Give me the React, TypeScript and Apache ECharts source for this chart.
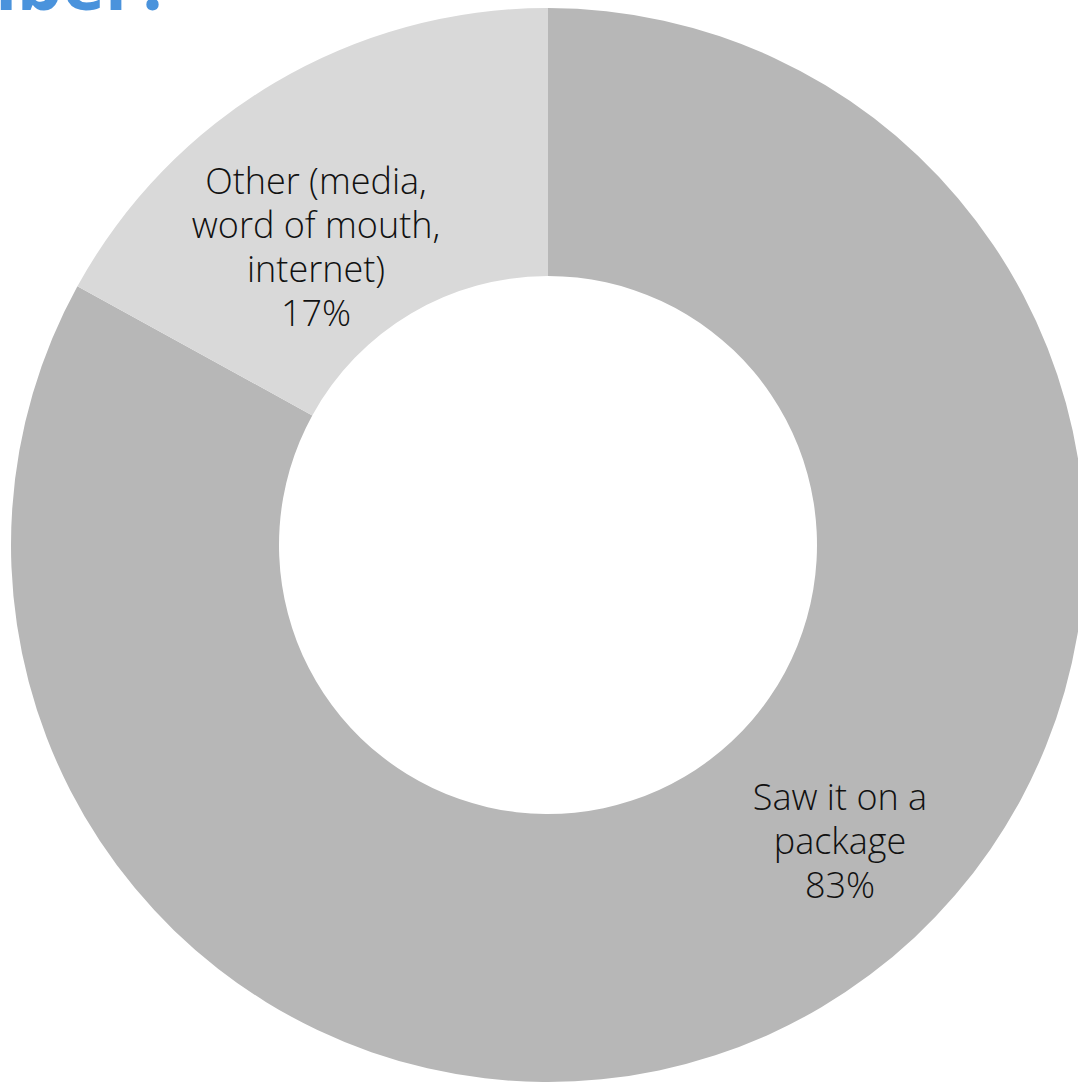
import React, { useEffect, useRef } from "react";
import * as echarts from "echarts";

const categories = ["Saw it on a\npackage", "Other (media,\nword of mouth,\ninternet)"];
const values = [83, 17];
const sliceColors = ["#b7b7b7", "#d9d9d9"];
const titleText = "number?";

export default function App() {
  const ref = useRef<HTMLDivElement>(null);
  useEffect(() => {
    document.body.style.margin = "0";
    const chart = echarts.init(ref.current!, null, { renderer: "svg" });
    const labelPos = [
      { x: 840, y: 840 },
      { x: 316, y: 246 },
    ];
    chart.setOption({
      animation: false,
      backgroundColor: "#ffffff",
      graphic: [
        {
          type: "text",
          right: 1078 - 172,
          top: -54,
          style: {
            text: titleText,
            font: "bold 72px 'Open Sans', sans-serif",
            fill: "#4a93dc",
          },
        },
      ],
      series: [
        {
          type: "pie",
          center: [548, 545],
          radius: [269, 537],
          startAngle: 90,
          clockwise: true,
          silent: true,
          itemStyle: { borderWidth: 0 },
          label: {
            show: true,
            position: "inside",
            formatter: (p: any) => `${p.name}\n${p.value}%`,
            fontFamily: "'Open Sans', sans-serif",
            fontWeight: 300,
            fontSize: 36,
            lineHeight: 44,
            color: "#111111",
            align: "center",
          },
          labelLine: { show: false },
          labelLayout: (params: any) => ({
            x: labelPos[params.dataIndex].x,
            y: labelPos[params.dataIndex].y,
            align: "center",
            verticalAlign: "middle",
          }),
          data: categories.map((name, i) => ({
            name,
            value: values[i],
            itemStyle: { color: sliceColors[i] },
          })),
        },
      ],
    });
    return () => chart.dispose();
  }, []);
  return <div ref={ref} style={{ position: "fixed", left: 0, top: 0, width: 1078, height: 1083 }} />;
}
